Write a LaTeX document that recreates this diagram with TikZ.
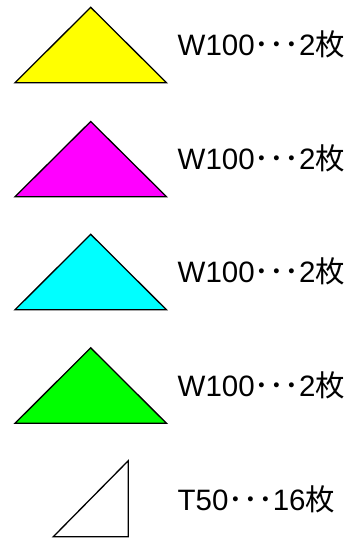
\documentclass[tikz,border=0pt]{standalone}
\usepackage{fontspec}
\setmainfont{Liberation Sans}
\newfontfamily\jpfont{Noto Sans CJK JP}
\newcommand{\jdot}{{\jpfont ･}}
\newcommand{\jmai}{{\jpfont 枚}}
\definecolor{cyel}{RGB}{255,255,0}
\definecolor{cmag}{RGB}{255,0,255}
\definecolor{ccya}{RGB}{0,255,255}
\definecolor{cgrn}{RGB}{0,255,0}
\begin{document}
\begin{tikzpicture}[x=1pt,y=-1pt,
  tri/.style={draw=black,line width=1.3pt,line join=miter},
  lbl/.style={anchor=base west,inner sep=0pt,font=\fontsize{29.5}{32}\selectfont}]
\useasboundingbox (0,0) rectangle (364,539);
% big triangles
\draw[tri,fill=cyel] (15,82.7) -- (90.7,7.3) -- (166.5,82.7) -- cycle;
\draw[tri,fill=cmag] (15,196.7) -- (90.7,121.5) -- (166.5,196.7) -- cycle;
\draw[tri,fill=ccya] (15,309.8) -- (90.7,234.3) -- (166.5,309.8) -- cycle;
\draw[tri,fill=cgrn] (15,423.3) -- (90.7,347.8) -- (166.5,423.3) -- cycle;
% small triangle
\draw[tri,fill=white] (53.3,536.7) -- (128.3,460.7) -- (128.3,536.7) -- cycle;
% labels
\node[lbl] (l1) at (177.5,55) {W100\jdot\jdot\jdot2\jmai};
\node[lbl] (l2) at (177.5,169) {W100\jdot\jdot\jdot2\jmai};
\node[lbl] (l3) at (177.5,282.7) {W100\jdot\jdot\jdot2\jmai};
\node[lbl] (l4) at (177.5,396.7) {W100\jdot\jdot\jdot2\jmai};
\node[lbl] (l5) at (177.5,510) {T50\jdot\jdot\jdot16\jmai};
\end{tikzpicture}
\end{document}
